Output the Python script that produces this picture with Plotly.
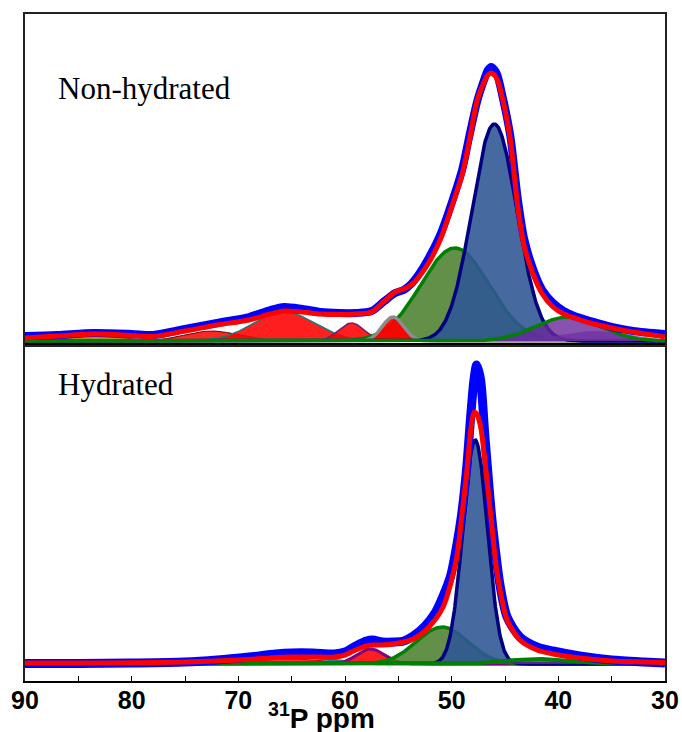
import numpy as np
import plotly.graph_objects as go

# ---------------- data ----------------
# Top panel: experimental (blue) and fitted (red) spectra, ppm vs intensity
top_ppm = [90, 87, 83.5, 80, 78, 75, 72, 69, 67, 65.7, 64, 62.3, 60.5, 59, 57.5, 56.3,
           55.3, 54.5, 53.8, 53.0, 52.0, 51.0, 50.0, 49.0, 48.4, 47.6, 47.0, 46.6, 46.3,
           45.8, 45.2, 44.5, 43.8, 43.2, 42.4, 41.5, 40.5, 39.5, 38.5, 37.0, 35.0, 33.0, 30]
top_exp = [5, 6, 8, 7, 6, 12, 18, 24, 31, 34, 32, 29, 28, 28, 30, 40,
           48, 51, 57, 68, 86, 108, 138, 172, 202, 240, 260, 271, 274,
           268, 243, 205, 142, 102, 73, 51, 38, 30, 25, 20, 14, 10, 7]
top_fit = [3, 5, 7, 5.5, 4.5, 10, 16, 21, 27, 30, 29, 27, 26.5, 27, 29, 40,
           49, 52, 56, 65, 81, 103, 134, 167, 197, 241, 258, 266, 268,
           263, 241, 201, 134, 95, 68, 47, 34, 27, 23, 18, 13, 9, 4]

# Top panel deconvolution components
top_center = [83.5, 72.5, 65.7, 59.4, 49.7, 55.5, 46.0, 36.5, 39.1]
top_height = [5, 10, 29, 18, 93, 24, 217, 10, 24]
top_sigma = [2.5, 2.5, 2.9, 1.2, 3.2, 1.0, 2.1, 3.2, 3.0]

# Bottom panel: experimental (blue) and fitted (red) spectra
bot_ppm = [90, 85, 80, 75, 72, 69, 66.5, 65, 63, 61, 60, 59, 58, 57.4, 56.5, 55.5,
           54.5, 53.6, 52.5, 51.5, 50.8, 50.1, 49.5, 49.06, 48.6, 48.2, 47.9, 47.65,
           47.3, 46.9, 46.25, 45.8, 45.5, 44.8, 43.6, 42.0, 40.5, 38, 35, 32, 30]
bot_exp = [0.5, 0.5, 1, 2, 4, 7, 10, 11, 11, 10, 12, 18, 23, 24, 22, 22,
           23, 28, 38, 52, 68, 88, 120, 150, 195, 250, 285, 299,
           285, 230, 147, 105, 81, 47, 27, 17, 13, 8, 4, 2, 1]
bot_fit = [1, 1, 1.2, 2, 3, 4.5, 6.5, 7, 7, 7, 9, 14, 18, 19, 19, 20,
           22, 25, 33, 45, 57, 80, 108, 147, 190, 235, 252, 250,
           238, 205, 140, 95, 76, 44, 24, 14, 10, 6, 3, 2, 1.5]

# Bottom panel deconvolution components
bot_center = [65.3, 65.5, 57.6, 50.9, 47.8, 42.0]
bot_height = [5, 9, 15, 37, 224, 5]
bot_sigma = [3.5, 3.2, 1.3, 2.4, 1.15, 3.0]

x_ticks = [90, 80, 70, 60, 50, 40, 30]
x_minor = [85, 75, 65, 55, 45, 35]

# ---------------- styles ----------------
top_fill = ["rgba(140,130,0,0.85)", "rgba(255,0,0,0.85)", "rgba(255,0,0,0.88)",
            "rgba(255,0,0,0.88)", "rgba(70,125,40,0.85)", "rgba(255,0,0,0.95)",
            "rgba(47,87,148,0.89)", "rgba(130,70,180,0.7)", "rgba(105,40,155,0.8)"]
top_line = ["#a01010", "#600000", "#1a7a7a", "#7a1a6a", "#008000", "#8c8c8c",
            "#000080", "rgba(0,0,0,0)", "#008000"]
top_lw = [1, 1, 1.5, 1.5, 3.5, 3.5, 3.5, 0, 3.5]

bot_fill = ["rgba(255,0,0,0.8)", None, "rgba(255,0,0,0.88)", "rgba(70,125,40,0.85)",
            "rgba(47,87,148,0.89)", "rgba(105,40,155,0.8)"]
bot_line = ["#b00000", "#1a8a8a", "#800080", "#008000", "#000080", "#008000"]
bot_lw = [1, 3, 3, 3.5, 3.5, 4]

grid = np.linspace(90, 30, 1201)


def gauss(c, h, s):
    return h * np.exp(-0.5 * ((grid - c) / s) ** 2)


fig = go.Figure()

# top panel components
for c, h, s, fc, lc, lw in zip(top_center, top_height, top_sigma, top_fill, top_line, top_lw):
    fig.add_trace(go.Scatter(x=grid, y=gauss(c, h, s), mode="lines",
                             line=dict(color=lc, width=lw), fill="tozeroy", fillcolor=fc,
                             xaxis="x2", yaxis="y2", hoverinfo="skip", showlegend=False))
fig.add_trace(go.Scatter(x=top_ppm, y=top_exp, mode="lines",
                         line=dict(color="#0000ff", width=8, shape="spline", smoothing=0.8),
                         xaxis="x2", yaxis="y2", showlegend=False))
fig.add_trace(go.Scatter(x=top_ppm, y=top_fit, mode="lines",
                         line=dict(color="#ff0000", width=5, shape="spline", smoothing=0.8),
                         xaxis="x2", yaxis="y2", showlegend=False))

# bottom panel components
for c, h, s, fc, lc, lw in zip(bot_center, bot_height, bot_sigma, bot_fill, bot_line, bot_lw):
    kw = dict(fill="tozeroy", fillcolor=fc) if fc else {}
    fig.add_trace(go.Scatter(x=grid, y=gauss(c, h, s), mode="lines",
                             line=dict(color=lc, width=lw), xaxis="x", yaxis="y",
                             hoverinfo="skip", showlegend=False, **kw))
fig.add_trace(go.Scatter(x=bot_ppm, y=bot_exp, mode="lines",
                         line=dict(color="#0000ff", width=9, shape="spline", smoothing=0.8),
                         xaxis="x", yaxis="y", showlegend=False))
fig.add_trace(go.Scatter(x=bot_ppm, y=bot_fit, mode="lines",
                         line=dict(color="#ff0000", width=5, shape="spline", smoothing=0.8),
                         xaxis="x", yaxis="y", showlegend=False))

split = 336 / 667
frame = dict(showline=True, mirror=True, linecolor="#222222", linewidth=1.5,
             showgrid=False, zeroline=False, automargin=False)

fig.update_layout(
    width=682, height=732,
    margin=dict(l=25, r=17, t=14, b=51, autoexpand=False),
    paper_bgcolor="white", plot_bgcolor="white",
    xaxis=dict(frame, range=[90, 30], anchor="y", linecolor="#000000", linewidth=2,
               tickvals=x_ticks, ticktext=["<b>%d</b>" % v for v in x_ticks],
               ticks="inside", ticklen=5, tickwidth=1.2, tickcolor="#000000",
               ticklabelstandoff=-4,
               tickfont=dict(family="Liberation Sans, Arial", size=25, color="#000000"),
               minor=dict(tickvals=x_minor, ticks="inside", ticklen=5, tickwidth=1.2,
                          tickcolor="#000000")),
    xaxis2=dict(frame, range=[90, 30], anchor="y2", matches="x", showticklabels=False,
                ticks=""),
    yaxis=dict(frame, domain=[0, split], range=[-17, 319], showticklabels=False, ticks=""),
    yaxis2=dict(frame, domain=[split, 1], range=[-4, 327], showticklabels=False, ticks=""),
    annotations=[
        dict(text="Non-hydrated", xref="paper", yref="paper", x=31 / 640, y=(681 - 88) / 667,
             xanchor="left", yanchor="middle", showarrow=False,
             font=dict(family="Liberation Serif, Times New Roman", size=31, color="#000000")),
        dict(text="Hydrated", xref="paper", yref="paper", x=31 / 640, y=(681 - 385) / 667,
             xanchor="left", yanchor="middle", showarrow=False,
             font=dict(family="Liberation Serif, Times New Roman", size=31, color="#000000")),
        dict(text="<b><sup>31</sup>P ppm</b>", xref="paper", yref="paper",
             x=(321 - 25) / 640, y=(681 - 716) / 667, xanchor="center", yanchor="middle",
             showarrow=False,
             font=dict(family="Liberation Sans, Arial", size=28, color="#000000")),
    ],
)

fig.write_html("out.html", config={"displayModeBar": False},
               post_script="document.body.style.margin='0';document.body.style.padding='0';")
